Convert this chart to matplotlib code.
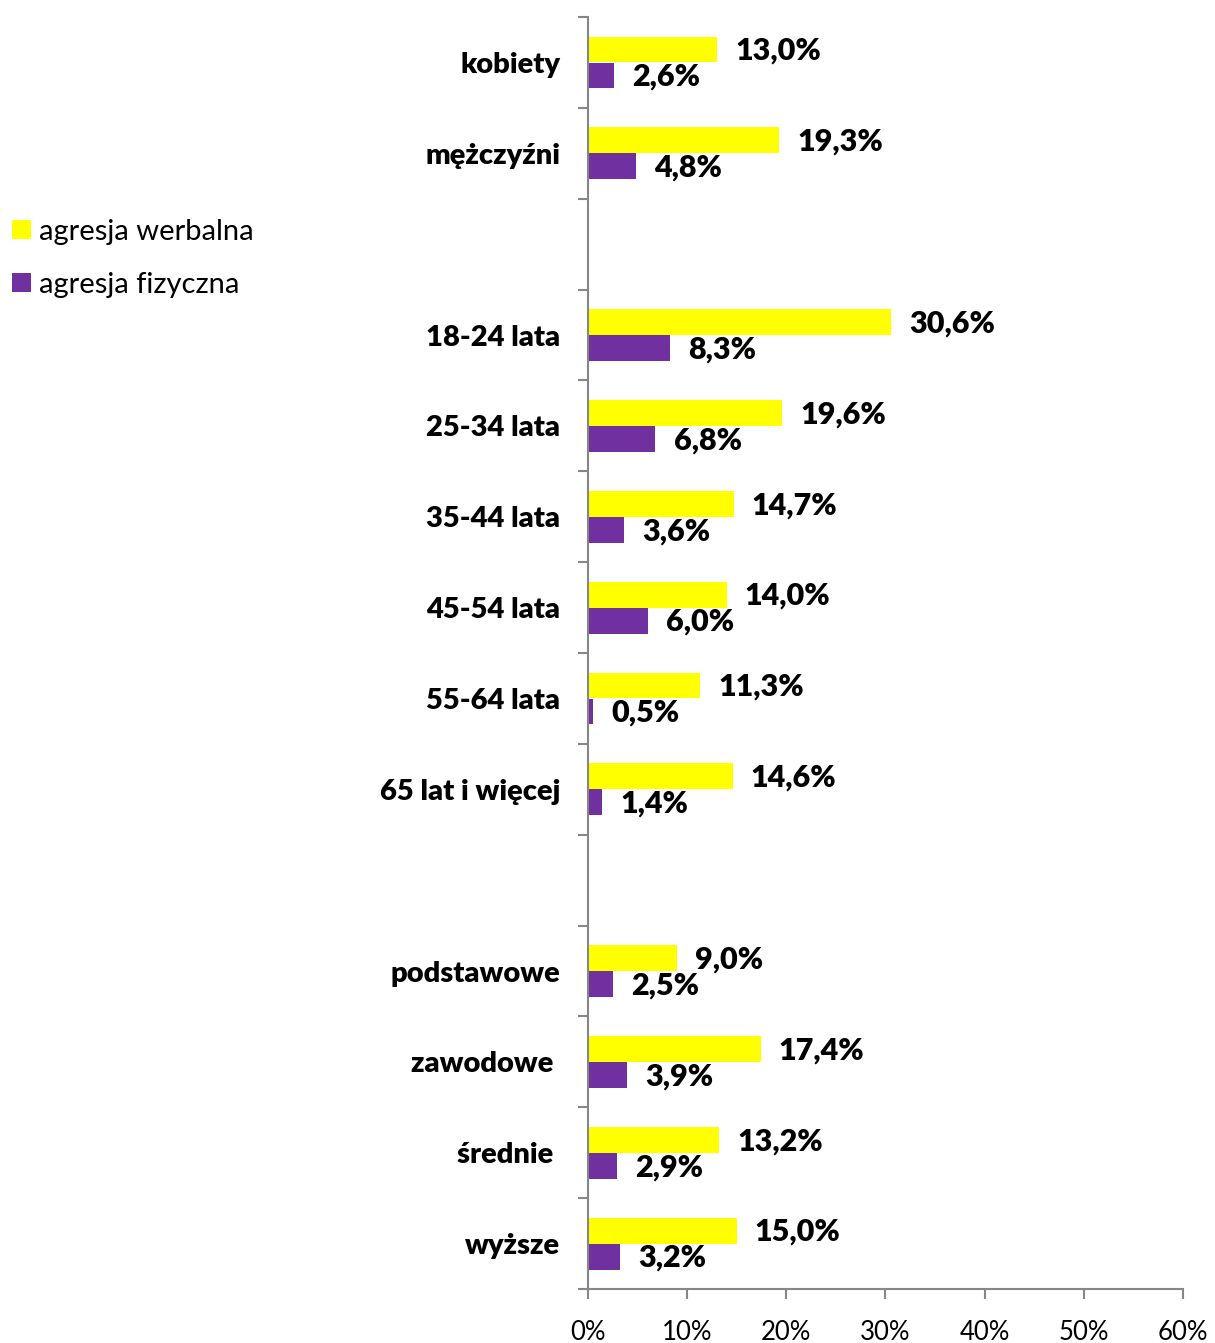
import matplotlib
matplotlib.use("Agg")
import matplotlib.pyplot as plt
import numpy as np
from matplotlib.patches import Patch

plt.rcParams['font.family'] = ['Lato', 'DejaVu Sans']

# Categories from top to bottom; empty strings are spacer slots between groups
categories = ["kobiety", "mężczyźni", "",
              "18-24 lata", "25-34 lata", "35-44 lata", "45-54 lata", "55-64 lata", "65 lat i więcej", "",
              "podstawowe", "zawodowe ", "średnie ", "wyższe"]
verbal = [13.0, 19.3, None,
          30.6, 19.6, 14.7, 14.0, 11.3, 14.6, None,
          9.0, 17.4, 13.2, 15.0]
physical = [2.6, 4.8, None,
            8.3, 6.8, 3.6, 6.0, 0.5, 1.4, None,
            2.5, 3.9, 2.9, 3.2]
series_names = ["agresja werbalna", "agresja fizyczna"]
colors = ["#FFFF00", "#7030A0"]
x_ticks = [0, 10, 20, 30, 40, 50, 60]

fig = plt.figure(figsize=(12.15, 13.43), dpi=100)
ax = fig.add_axes([0.484, 0.0402, 0.4896, 0.9471])

n = len(categories)
pos = np.arange(n)
bar_h = 0.285
off = 0.143


def fmt(v):
    return f"{v:.1f}%".replace(".", ",")


for i, (v, p) in enumerate(zip(verbal, physical)):
    if v is None:
        continue
    ax.barh(pos[i] - off, v, height=bar_h, color=colors[0])
    ax.barh(pos[i] + off, p, height=bar_h, color=colors[1])
    ax.annotate(fmt(v), (v, pos[i] - off), xytext=(13, -1), textcoords="offset points",
                ha="left", va="center", fontsize=22, fontweight="heavy")
    ax.annotate(fmt(p), (p, pos[i] + off), xytext=(13, -1), textcoords="offset points",
                ha="left", va="center", fontsize=22, fontweight="heavy")

ax.set_ylim(n - 0.5, -0.5)
ax.set_xlim(0, 60)

ax.set_yticks(pos)
ax.set_yticklabels(categories, fontsize=21, fontweight="heavy")
ax.tick_params(axis="y", which="major", length=0, pad=20)
ax.set_yticks(np.arange(-0.5, n, 1.0), minor=True)
ax.tick_params(axis="y", which="minor", length=7, width=1.5, color="#868686", direction="out")

ax.set_xticks(x_ticks)
ax.set_xticklabels([f"{t}%" for t in x_ticks], fontsize=18.5)
ax.tick_params(axis="x", length=7, width=1.5, color="#868686", direction="out", pad=15)

for s in ("top", "right"):
    ax.spines[s].set_visible(False)
for s in ("left", "bottom"):
    ax.spines[s].set_color("#868686")
    ax.spines[s].set_linewidth(1.5)

handles = [Patch(facecolor=c, edgecolor="none") for c in colors]
fig.legend(handles, series_names, loc="upper left", bbox_to_anchor=(-0.012, 0.8565),
           frameon=False, fontsize=21, handlelength=0.65, handleheight=0.65,
           handletextpad=0.3, labelspacing=0.92)

fig.savefig("out.png", dpi=100)
